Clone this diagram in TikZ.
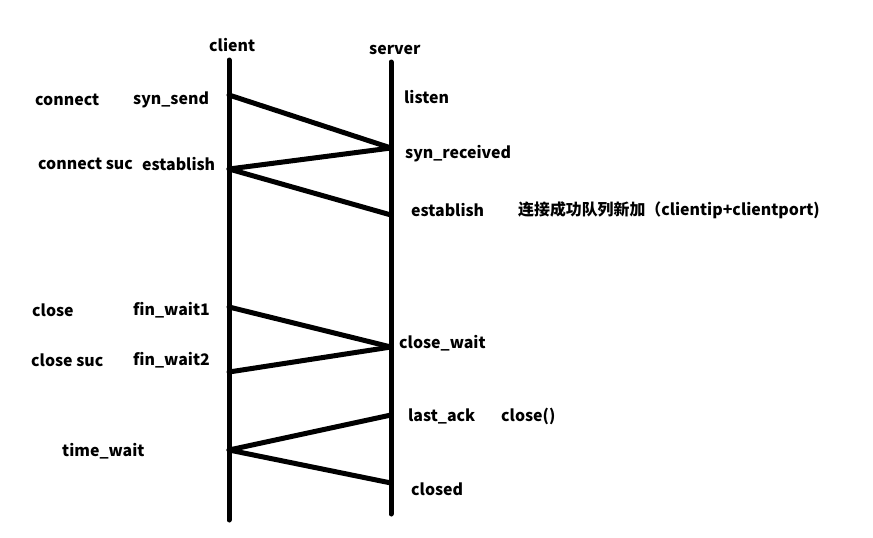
\documentclass[tikz,border=0pt]{standalone}
\usepackage{fontspec}
\setmainfont{Noto Sans CJK SC}
\begin{document}
\begin{tikzpicture}[x=1pt,y=-1pt,
  lifeline/.style={line width=5pt,line cap=round},
  msg/.style={line width=5pt,line cap=round},
  lbl/.style={anchor=west,inner sep=0pt,font=\fontsize{15.9}{19}\selectfont\bfseries}]
\useasboundingbox[fill=white] (0,0) rectangle (873,538);
% lifelines
\coordinate (ctop) at (229,60);
\coordinate (cbot) at (229,520);
\coordinate (stop) at (391,62);
\coordinate (sbot) at (391,514);
\draw[lifeline] (ctop) -- (cbot);
\draw[lifeline] (stop) -- (sbot);
% message points
\coordinate (c1) at (229,95);
\coordinate (s1) at (391,148);
\coordinate (c2) at (229,169);
\coordinate (s2) at (391,215);
\coordinate (c3) at (229,307);
\coordinate (s3) at (391,347);
\coordinate (c4) at (229,372);
\coordinate (s4) at (391,415);
\coordinate (c5) at (229,450);
\coordinate (s5) at (391,483);
\draw[msg] (c1) -- (s1);
\draw[msg] (s1) -- (c2);
\draw[msg] (c2) -- (s2);
\draw[msg] (c3) -- (s3);
\draw[msg] (s3) -- (c4);
\draw[msg] (s4) -- (c5);
\draw[msg] (c5) -- (s5);
% labels
\node[lbl] (client) at (209,45) {client};
\node[lbl] (server) at (369,50) {server};
\node[lbl] (connect) at (35,100) {connect};
\node[lbl] (synsend) at (133,100) {syn\_send};
\node[lbl] (listen) at (404,97) {listen};
\node[lbl] (synrec) at (405,154) {syn\_received};
\node[lbl] (connsuc) at (38,164) {connect suc};
\node[lbl] (estc) at (142,164) {establish};
\node[lbl] (ests) at (411,210) {establish};
\node[lbl] (queue) at (518,210) {连接成功队列新加（clientip+clientport)};
\node[lbl] (close) at (32,310) {close};
\node[lbl] (fw1) at (133,310) {fin\_wait1};
\node[lbl] (closewait) at (399,343) {close\_wait};
\node[lbl] (closesuc) at (31,360) {close suc};
\node[lbl] (fw2) at (133,360) {fin\_wait2};
\node[lbl] (lastack) at (408,416) {last\_ack};
\node[lbl] (closefn) at (501,416) {close()};
\node[lbl] (timewait) at (62,451) {time\_wait};
\node[lbl] (closed) at (411,489) {closed};
\end{tikzpicture}
\end{document}
